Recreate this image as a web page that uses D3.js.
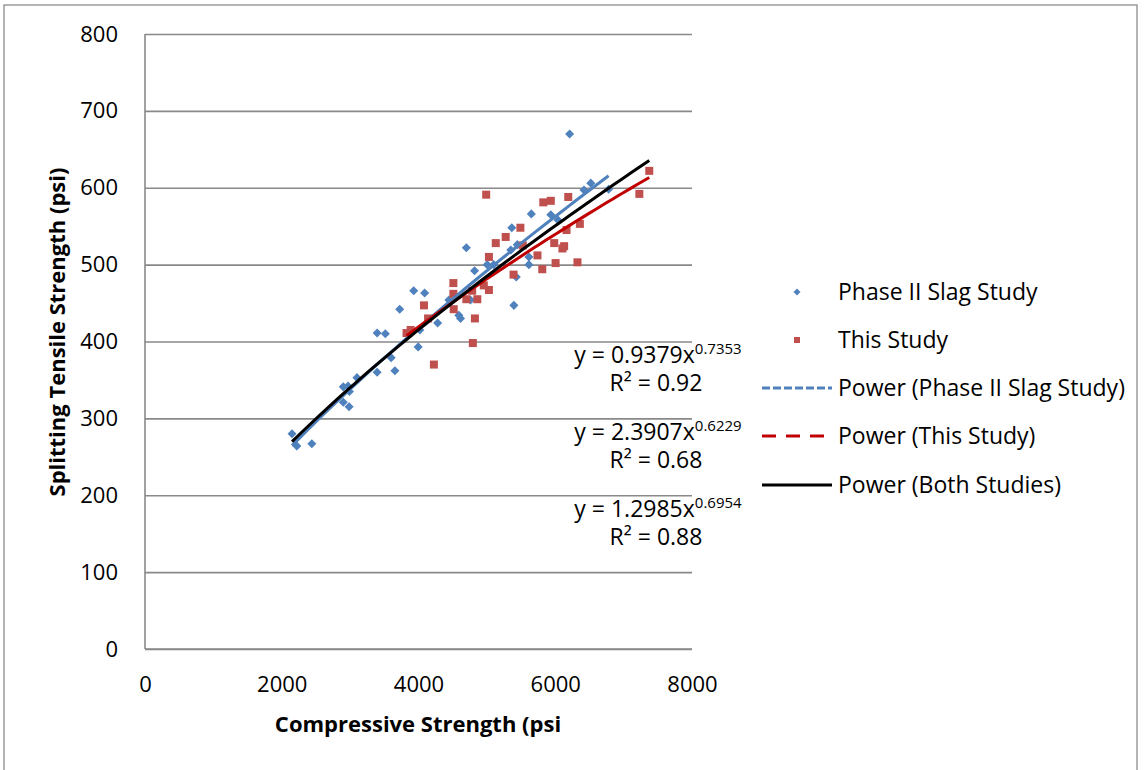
<!DOCTYPE html>
<html>
<head>
<meta charset="utf-8">
<script src="https://cdn.jsdelivr.net/npm/d3@7"></script>
<style>
  body { margin: 0; background: #fff; }
  svg text { font-family: "Open Sans", sans-serif; fill: #000; }
</style>
</head>
<body>
<svg id="chart"></svg>
<script>
// Phase II Slag Study (blue diamonds)
var phaseX = [2150, 2220, 2440, 2900, 2970, 2990, 3100, 2900, 2985, 3395, 3655, 3600, 3395, 3515,
              3725, 3930, 4090, 3995, 4280, 4020, 4445, 4590, 4615, 4700, 4820, 4760, 5005, 5100,
              5395, 5430, 5615, 5615, 5350, 5445, 5365, 5650, 5935, 6040, 6210, 6420, 6520, 6780];
var phaseY = [280, 264, 267, 341, 342, 335, 353, 321, 315, 360, 362, 379, 411, 410,
              442, 466, 463, 393, 424, 415, 454, 434, 430, 522, 492, 454, 500, 500,
              447, 484, 510, 500, 519, 526, 548, 566, 565, 558, 670, 597, 606, 598];

// This Study (red squares)
var thisX = [3825, 3885, 4080, 4225, 4140, 4510, 4510, 4515, 4700, 4860, 4825, 4795, 5030, 5030,
             4955, 5130, 5275, 5390, 5740, 5810, 6005, 5985, 6105, 6130, 4990, 5825, 5935, 6190,
             5490, 6360, 6165, 6325, 7375, 7230, 4785, 5525];
var thisY = [411, 415, 447, 370, 430, 476, 462, 442, 455, 455, 430, 398, 510, 467,
             473, 528, 536, 487, 512, 494, 502, 528, 521, 524, 591, 581, 583, 588,
             548, 553, 545, 503, 622, 592, 466, 525];

// power trend lines y = a * x^b
var fitA = [0.9379, 2.3907, 1.2985];
var fitB = [0.7353, 0.6229, 0.6954];
var fitR2 = ["0.92", "0.68", "0.88"];

var xTicks = [0, 2000, 4000, 6000, 8000];
var yTicks = [0, 100, 200, 300, 400, 500, 600, 700, 800];

var legendLabels = ["Phase II Slag Study", "This Study", "Power (Phase II Slag Study)",
                    "Power (This Study)", "Power (Both Studies)"];

var width = 1146;
var height = 770;
var plotLeft = 145, plotRight = 692, plotTop = 34, plotBottom = 649;

var blue = "#4f81bd";
var redMark = "#c0504d";
var redLine = "#c00000";
var gridColor = "#898989";

var svg = d3.select("#chart")
    .attr("width", width)
    .attr("height", height);

// outer frame
svg.append("rect")
    .attr("x", 4).attr("y", 5)
    .attr("width", 1133).attr("height", 800)
    .attr("fill", "none")
    .attr("stroke", "#8c8c8c")
    .attr("stroke-width", 1.3);

var xScale = d3.scaleLinear().domain([0, 8000]).range([plotLeft, plotRight]);
var yScale = d3.scaleLinear().domain([0, 800]).range([plotBottom, plotTop]);

var yAxis = d3.axisLeft(yScale)
    .tickValues(yTicks)
    .tickSize(-(plotRight - plotLeft))
    .tickPadding(27);

var gy = svg.append("g")
    .attr("transform", "translate(" + plotLeft + ",0)")
    .call(yAxis);
gy.select(".domain").remove();
gy.selectAll("line").attr("stroke", gridColor).attr("stroke-width", 1.6);
gy.selectAll("text").style("font-size", "22px");

var xAxis = d3.axisBottom(xScale)
    .tickValues(xTicks)
    .tickSize(0)
    .tickPadding(27)
    .tickFormat(d3.format("d"));

var gx = svg.append("g")
    .attr("transform", "translate(0," + plotBottom + ")")
    .call(xAxis);
gx.select(".domain").remove();
gx.selectAll("text").style("font-size", "22px");

// axis lines
svg.append("line")
    .attr("x1", plotLeft).attr("x2", plotLeft)
    .attr("y1", plotTop).attr("y2", plotBottom)
    .attr("stroke", gridColor).attr("stroke-width", 1.6);
svg.append("line")
    .attr("x1", plotLeft).attr("x2", plotRight)
    .attr("y1", plotBottom).attr("y2", plotBottom)
    .attr("stroke", gridColor).attr("stroke-width", 1.6);

// axis titles
svg.append("text")
    .text("Compressive Strength (psi")
    .attr("x", 418)
    .attr("y", 732)
    .style("text-anchor", "middle")
    .style("font-size", "22px")
    .style("font-weight", "bold");

svg.append("text")
    .text("Splitting Tensile Strength (psi)")
    .attr("transform", "translate(65,332) rotate(-90)")
    .style("text-anchor", "middle")
    .style("font-size", "22px")
    .style("font-weight", "bold");

// markers
var phase = phaseX.map((d, i) => ({x: d, y: phaseY[i]}));
var study = thisX.map((d, i) => ({x: d, y: thisY[i]}));

svg.append("g").selectAll("rect")
    .data(phase)
    .enter()
    .append("rect")
      .attr("x", -3.2).attr("y", -3.2)
      .attr("width", 6.4).attr("height", 6.4)
      .attr("fill", blue)
      .attr("transform", d => "translate(" + xScale(d.x) + "," + yScale(d.y) + ") rotate(45)");

svg.append("g").selectAll("rect")
    .data(study)
    .enter()
    .append("rect")
      .attr("x", d => xScale(d.x) - 4)
      .attr("y", d => yScale(d.y) - 4)
      .attr("width", 8).attr("height", 8)
      .attr("fill", redMark);

// trend lines
var allX = phaseX.concat(thisX);
var ranges = [d3.extent(phaseX), d3.extent(thisX), d3.extent(allX)];
var lineColors = [blue, redLine, "#000"];

var line = d3.line()
    .x(d => xScale(d[0]))
    .y(d => yScale(d[1]));

[0, 1, 2].forEach(function(k) {
  var ext = ranges[k];
  var pts = d3.range(0, 41).map(function(i) {
    var xv = ext[0] + (ext[1] - ext[0]) * i / 40;
    return [xv, fitA[k] * Math.pow(xv, fitB[k])];
  });
  svg.append("path")
      .datum(pts)
      .attr("d", line)
      .attr("fill", "none")
      .attr("stroke", lineColors[k])
      .attr("stroke-width", 3);
});

// equation labels
var eqY = [363, 440, 517];
fitA.forEach(function(a, k) {
  var t = svg.append("text")
      .attr("x", 658)
      .attr("y", eqY[k])
      .style("text-anchor", "middle")
      .style("font-size", "23px");
  t.append("tspan").text("y = " + a.toFixed(4) + "x");
  t.append("tspan")
      .text(fitB[k].toFixed(4))
      .attr("dy", -9)
      .style("font-size", "15px");
  svg.append("text")
      .text("R\u00b2 = " + fitR2[k])
      .attr("x", 656)
      .attr("y", eqY[k] + 28)
      .style("text-anchor", "middle")
      .style("font-size", "23px");
});

// legend
var legendY = [292, 340, 388, 436, 485];

var lg = svg.append("g");
lg.append("rect")
    .attr("x", -2.5).attr("y", -2.5)
    .attr("width", 5).attr("height", 5)
    .attr("fill", blue)
    .attr("transform", "translate(797," + legendY[0] + ") rotate(45)");
lg.append("rect")
    .attr("x", 794).attr("y", legendY[1] - 3)
    .attr("width", 6).attr("height", 6)
    .attr("fill", redMark);
lg.append("line")
    .attr("x1", 762).attr("x2", 832)
    .attr("y1", legendY[2]).attr("y2", legendY[2])
    .attr("stroke", blue).attr("stroke-width", 3)
    .attr("stroke-dasharray", "8,3");
lg.append("line")
    .attr("x1", 762).attr("x2", 832)
    .attr("y1", legendY[3]).attr("y2", legendY[3])
    .attr("stroke", redLine).attr("stroke-width", 3)
    .attr("stroke-dasharray", "14,10");
lg.append("line")
    .attr("x1", 762).attr("x2", 832)
    .attr("y1", legendY[4]).attr("y2", legendY[4])
    .attr("stroke", "#000").attr("stroke-width", 3);

lg.selectAll("text")
    .data(legendLabels)
    .enter()
    .append("text")
      .text(d => d)
      .attr("x", 838)
      .attr("y", (d, i) => legendY[i])
      .attr("dy", "0.35em")
      .style("font-size", "23px");
</script>
</body>
</html>
